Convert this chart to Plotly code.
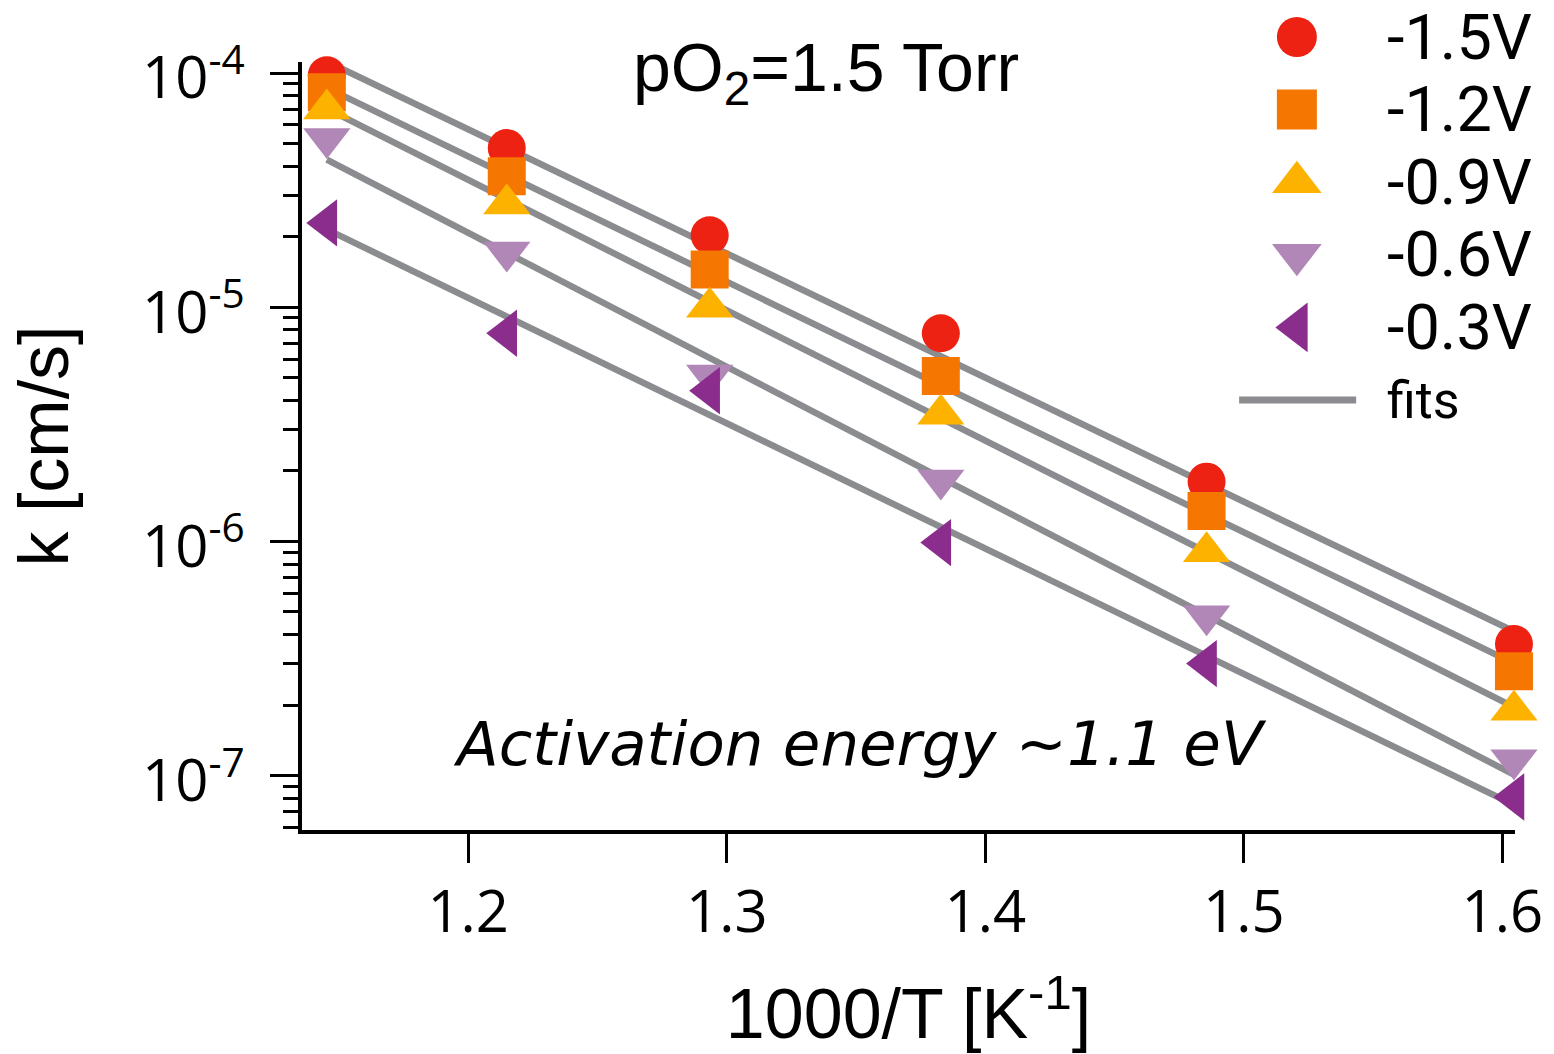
import plotly.graph_objects as go

# ---------------- data ----------------
inv_T = [1.1453, 1.2149, 1.2934, 1.3828, 1.4856, 1.6045]   # 1000/T [1/K]

series_names = ["-1.5V", "-1.2V", "-0.9V", "-0.6V", "-0.3V"]
k_m15 = [9.78e-5, 4.78e-5, 2.03e-5, 7.74e-6, 1.80e-6, 3.65e-7]
k_m12 = [8.27e-5, 3.62e-5, 1.45e-5, 5.09e-6, 1.35e-6, 2.79e-7]
k_m09 = [7.02e-5, 2.76e-5, 1.00e-5, 3.49e-6, 9.04e-7, 1.90e-7]
k_m06 = [5.25e-5, 1.72e-5, 5.13e-6, 1.83e-6, 4.82e-7, 1.17e-7]
k_m03 = [2.29e-5, 7.74e-6, 4.40e-6, 9.89e-7, 3.01e-7, 8.11e-8]

# fitted lines, value at first and last temperature
fit_k_first = [1.12e-4, 8.64e-5, 7.05e-5, 4.27e-5, 2.15e-5]
fit_k_last = [4.13e-7, 3.02e-7, 1.96e-7, 1.01e-7, 7.5e-8]

y_tickvals = [1e-7, 1e-6, 1e-5, 1e-4]
y_ticktext = ["10<sup>-7</sup>", "10<sup>-6</sup>", "10<sup>-5</sup>", "10<sup>-4</sup>"]
x_tickvals = [1.2, 1.3, 1.4, 1.5, 1.6]
x_ticktext = ["1.2", "1.3", "1.4", "1.5", "1.6"]
fit_label = "fits"

# ---------------- styles ----------------
colors = ["#EE2212", "#F57600", "#FDB200", "#B087B6", "#8B2D8D"]
symbols = ["circle", "square", "triangle-up", "triangle-down", "triangle-left"]
sizes = [38, 38, 41, 41, 41]
fit_color = "#8B8C90"
series = [k_m15, k_m12, k_m09, k_m06, k_m03]

TICK_FONT = dict(family="Open Sans", size=58, color="black")
TITLE_FONT = dict(family="Liberation Sans, Arial", size=70, color="black")

fig = go.Figure()

# fits first (below markers)
for i in range(len(series)):
    fig.add_trace(go.Scatter(
        x=[inv_T[0], inv_T[-1]], y=[fit_k_first[i], fit_k_last[i]],
        mode="lines", line=dict(color=fit_color, width=6.5),
        showlegend=False, hoverinfo="skip", cliponaxis=False))

for i, (name, ys) in enumerate(zip(series_names, series)):
    fig.add_trace(go.Scatter(
        x=inv_T, y=ys, mode="markers", name=name,
        marker=dict(symbol=symbols[i], size=sizes[i], color=colors[i], line=dict(width=0)),
        showlegend=False, cliponaxis=False))

# ---------------- custom legend (secondary axes) ----------------
legend_rows = list(range(len(series_names) + 1))
for i, name in enumerate(series_names):
    fig.add_trace(go.Scatter(
        x=[0.22], y=[legend_rows[i]], mode="markers",
        marker=dict(symbol=symbols[i], size=sizes[i] + 2, color=colors[i], line=dict(width=0)),
        xaxis="x2", yaxis="y2", showlegend=False, hoverinfo="skip", cliponaxis=False))
    fig.add_annotation(x=0.509, y=legend_rows[i], xref="x2", yref="y2", text=name,
                       showarrow=False, xanchor="left", yanchor="middle",
                       font=dict(family="Roboto", size=63, color="black"))
fig.add_trace(go.Scatter(
    x=[0.03, 0.415], y=[legend_rows[-1], legend_rows[-1]], mode="lines",
    line=dict(color=fit_color, width=7),
    xaxis="x2", yaxis="y2", showlegend=False, hoverinfo="skip", cliponaxis=False))
fig.add_annotation(x=0.509, y=legend_rows[-1], xref="x2", yref="y2", text=fit_label,
                   showarrow=False, xanchor="left", yanchor="middle",
                   font=dict(family="Roboto", size=52, color="black"))

W, H = 1554, 1054
ml, mr, mt, mb = 302, 20, 10, 224
pw, ph = W - ml - mr, H - mt - mb
x_dom_end = (1515 - ml) / pw
y_dom_end = (830 - 62) / ph

# ---------------- text annotations ----------------
fig.add_annotation(x=(826 - ml) / pw, y=(830 - 72) / ph, xref="paper", yref="paper",
                   text="pO<sub>2</sub>=1.5 Torr", showarrow=False,
                   xanchor="center", yanchor="middle",
                   font=dict(family="Liberation Sans, Arial", size=68, color="black"))
fig.add_annotation(x=(860 - ml) / pw, y=(830 - 743) / ph, xref="paper", yref="paper",
                   text="<i>Activation energy ~1.1 eV</i>", showarrow=False,
                   xanchor="center", yanchor="middle",
                   font=dict(family="DejaVu Sans", size=61, color="black"))

minor_vals = [m * 10.0 ** d for d in range(-8, -3) for m in range(2, 10)]

fig.update_layout(
    width=W, height=H,
    margin=dict(l=ml, r=mr, t=mt, b=mb, autoexpand=False),
    paper_bgcolor="white", plot_bgcolor="rgba(0,0,0,0)",
    showlegend=False,
    xaxis=dict(
        domain=[0, x_dom_end], range=[1.1357, 1.6049], automargin=False,
        tickmode="array", tickvals=x_tickvals, ticktext=x_ticktext,
        ticks="outside", ticklen=29, tickwidth=3, tickcolor="black",
        showline=True, linewidth=3.5, linecolor="black", mirror=False,
        showgrid=False, zeroline=False, tickfont=TICK_FONT,
        title=dict(text="1000/T [K<sup>-1</sup>]", font=TITLE_FONT, standoff=42),
    ),
    yaxis=dict(
        domain=[0, y_dom_end], type="log", range=[-7.232, -3.953], automargin=False,
        tickmode="array", tickvals=y_tickvals, ticktext=y_ticktext,
        ticks="outside", ticklen=28, tickwidth=3, tickcolor="black",
        ticklabelstandoff=14, ticklabelshift=5,
        showline=True, linewidth=3.5, linecolor="black", mirror=False,
        showgrid=False, zeroline=False, tickfont=TICK_FONT,
        minor=dict(tickmode="array", tickvals=minor_vals, ticks="outside",
                   ticklen=15, tickwidth=3, tickcolor="black", showgrid=False),
        title=dict(text="k [cm/s]", font=TITLE_FONT, standoff=52),
    ),
    xaxis2=dict(domain=[(1230 - ml) / pw, 1.0], range=[0, 1], visible=False,
                fixedrange=True, automargin=False),
    yaxis2=dict(domain=[(830 - 430) / ph, 1.0], range=[5.413, -0.372],
                visible=False, fixedrange=True, automargin=False),
)

fig.write_html("out.html")
